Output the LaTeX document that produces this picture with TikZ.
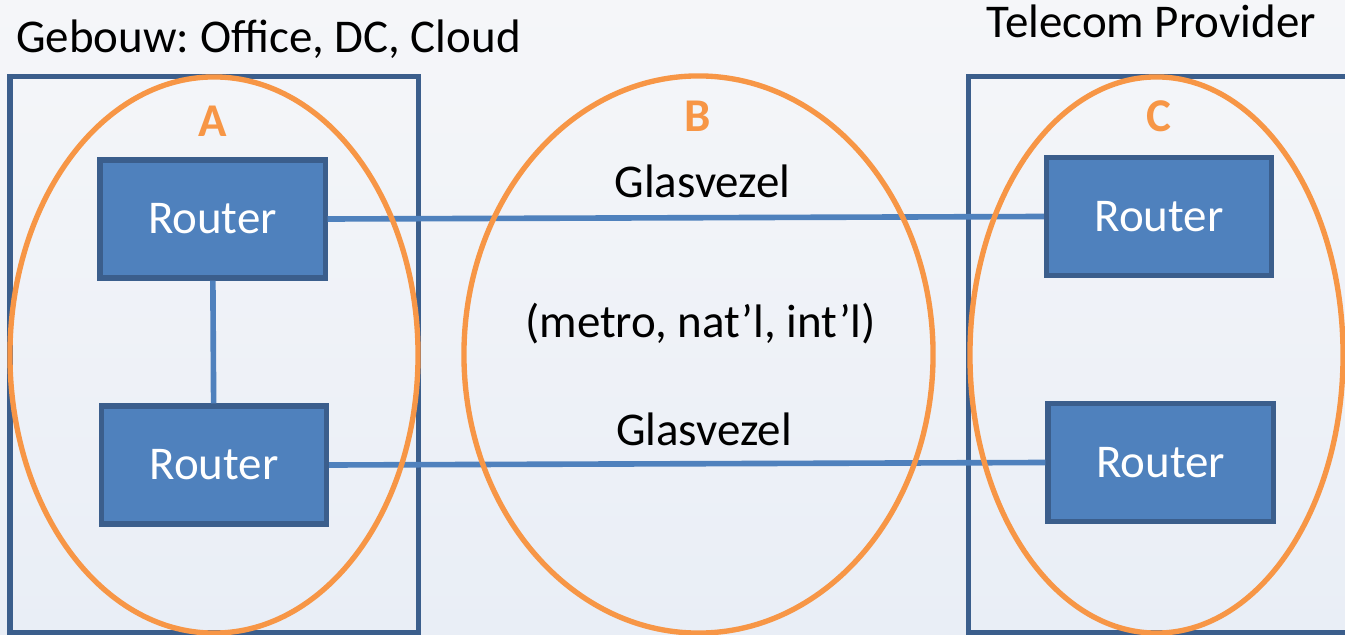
\documentclass[tikz,border=0pt]{standalone}
\usepackage{fontspec}
\setmainfont{Carlito}
\frenchspacing
\usetikzlibrary{shapes.geometric}
\definecolor{routerblue}{HTML}{4F81BD}
\definecolor{edgeblue}{HTML}{3B5E8C}
\definecolor{zoneorange}{HTML}{F79646}
\definecolor{bgtop}{HTML}{F5F6F9}
\definecolor{bgbottom}{HTML}{E9EEF6}

\begin{document}
\begin{tikzpicture}[x=0.025cm,y=-0.025cm,
  txt/.style={inner sep=0pt,font=\fontsize{33.4pt}{40pt}\selectfont},
  router/.style={txt,draw=edgeblue,line width=3.6pt,fill=routerblue,text=white,
    minimum width=5.625cm,minimum height=2.95cm},
  zone/.style={ellipse,draw=zoneorange,line width=3.8pt,inner sep=0pt},
  zonelabel/.style={txt,anchor=base,text=zoneorange,
    font=\fontsize{33.4pt}{40pt}\selectfont\bfseries},
  site/.style={draw=edgeblue,line width=3.6pt},
  link/.style={draw=routerblue,line width=4pt}]

\shade[top color=bgtop,bottom color=bgbottom] (0,0) rectangle (1345,635);
\useasboundingbox (0,0) rectangle (1345,635);

\draw[site] (10,76.5) rectangle (418.5,633);
\draw[site] (968.5,76.5) rectangle (1360,633);

\node[txt,anchor=base west] (gebouw) at (16,53) {Gebouw: Office, DC, Cloud};
\node[txt,anchor=base west] (telecom) at (986,38) {Telecom Provider};

\node[router] (ra1) at (212.5,219) {Router};
\node[router] (ra2) at (214,465) {Router};
\node[router] (rc1) at (1159,216.5) {Router};
\node[router] (rc2) at (1160.5,462.5) {Router};

\draw[link] (ra1) -- (ra2);
\draw[link] (ra1.east) -- (rc1.west);
\draw[link] (ra2.east) -- (rc2.west);

\node[zone,minimum width=10.2cm,minimum height=13.9cm] (za) at (214,355) {};
\node[zone,minimum width=11.725cm,minimum height=13.925cm] (zb) at (698.5,354.5) {};
\node[zone,minimum width=9.325cm,minimum height=13.9cm] (zc) at (1156.5,355) {};

\node[zonelabel] (la) at (212.5,137) {A};
\node[zonelabel] (lb) at (698,132) {B};
\node[zonelabel] (lc) at (1159,132) {C};

\node[txt,anchor=base] (glas1) at (702.5,198) {Glasvezel};
\node[txt,anchor=base] (metro) at (700.5,337) {(metro, nat’l, int’l)};
\node[txt,anchor=base] (glas2) at (704,445) {Glasvezel};
\end{tikzpicture}
\end{document}
